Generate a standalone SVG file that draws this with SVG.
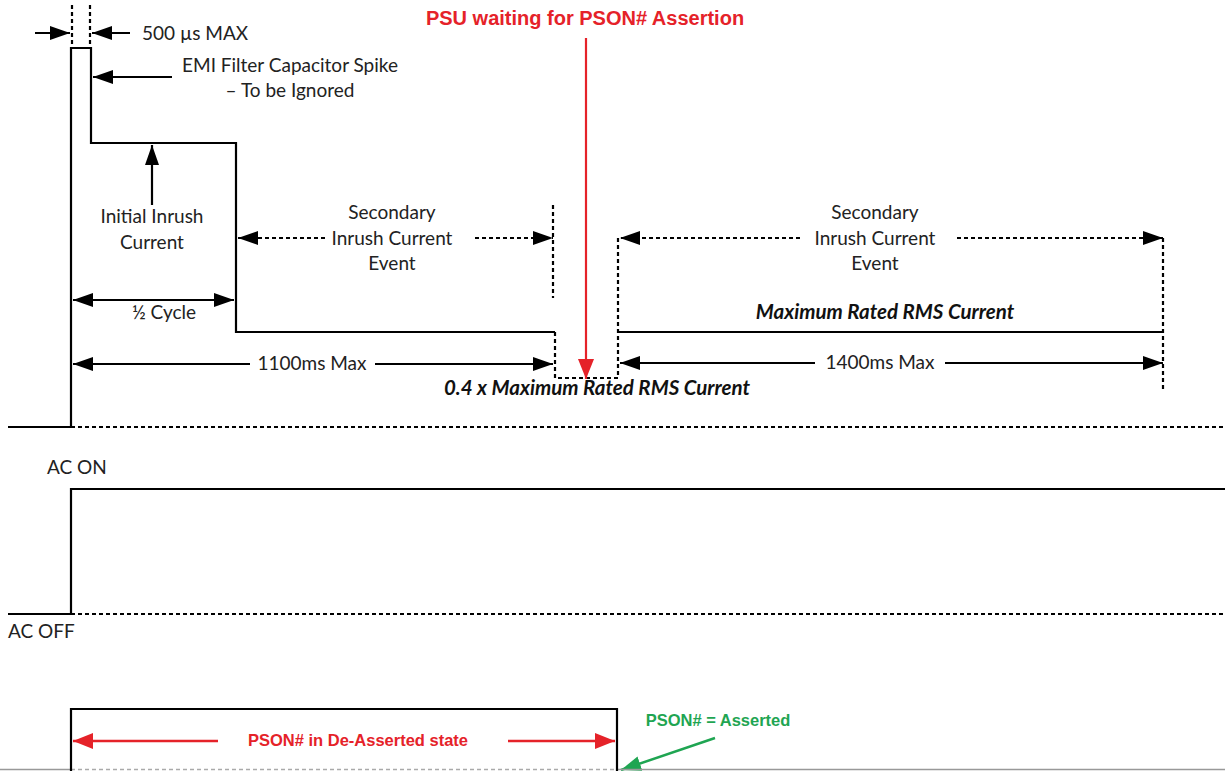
<svg xmlns="http://www.w3.org/2000/svg" width="1225" height="771" viewBox="0 0 1225 771">
<defs>
<style>
.t{font-family:Lato,"Open Sans","Liberation Sans",sans-serif;font-size:19px;fill:#222}
.bi{font-family:Lato,"Open Sans","Liberation Sans",sans-serif;font-size:20.5px;font-weight:bold;font-style:italic;fill:#111}
.r{font-family:"Liberation Sans",Arial,sans-serif;font-weight:bold;fill:#e52229}
.g{font-family:"Liberation Sans",Arial,sans-serif;font-weight:bold;fill:#1fa552}
.s{stroke:#000;stroke-width:2.2;fill:none}
.d{stroke:#000;stroke-width:2.2;fill:none;stroke-dasharray:4 3}
</style>
<marker id="ahr" viewBox="0 0 10 10" refX="10" refY="5" markerWidth="20" markerHeight="16" markerUnits="userSpaceOnUse" orient="auto" preserveAspectRatio="none"><path d="M0,0 L10,5 L0,10 z" fill="#e52229"/></marker>
<marker id="ahg" viewBox="0 0 10 10" refX="10" refY="5" markerWidth="20" markerHeight="15" markerUnits="userSpaceOnUse" orient="auto" preserveAspectRatio="none"><path d="M0,0 L10,5 L0,10 z" fill="#1fa552"/></marker>
<marker id="ahb" viewBox="0 0 10 10" refX="10" refY="5" markerWidth="20" markerHeight="14" markerUnits="userSpaceOnUse" orient="auto" preserveAspectRatio="none"><path d="M0,0 L10,5 L0,10 z" fill="#000"/></marker>
</defs>
<rect width="1225" height="771" fill="#fff"/>

<g id="inrush-waveform">
<path class="s" d="M8,427 H71 V48 H91 V143 H236 V332 H555"/>
<path class="d" d="M71,427 H1225"/>
<path class="d" d="M555,332 V378 H618 V236"/>
<path class="s" d="M618,332 H1163"/>
<path class="d" d="M72,5 V45 M90,5 V45"/>
<path class="d" d="M553,205 V298"/>
<path class="d" d="M1163,238 V390"/>
</g>

<g id="connectors">
<line x1="35" y1="33" x2="70" y2="33" class="s" marker-end="url(#ahb)"/>
<line x1="130" y1="33" x2="92" y2="33" class="s" marker-end="url(#ahb)"/>
<line x1="172" y1="77" x2="93" y2="77" class="s" marker-end="url(#ahb)"/>
<line x1="152" y1="205" x2="152" y2="145" class="s" marker-end="url(#ahb)"/>
<line x1="120" y1="300" x2="73" y2="300" class="s" marker-end="url(#ahb)"/>
<line x1="120" y1="300" x2="234" y2="300" class="s" marker-end="url(#ahb)"/>
<line x1="325" y1="238" x2="238" y2="238" class="d" marker-end="url(#ahb)"/>
<line x1="475" y1="238" x2="553" y2="238" class="d" marker-end="url(#ahb)"/>
<line x1="800" y1="238" x2="620" y2="238" class="d" marker-end="url(#ahb)"/>
<line x1="957" y1="238" x2="1163" y2="238" class="d" marker-end="url(#ahb)"/>
<line x1="250" y1="364" x2="73" y2="364" class="s" marker-end="url(#ahb)"/>
<line x1="375" y1="364" x2="553" y2="364" class="s" marker-end="url(#ahb)"/>
<line x1="815" y1="363" x2="620" y2="363" class="s" marker-end="url(#ahb)"/>
<line x1="945" y1="363" x2="1163" y2="363" class="s" marker-end="url(#ahb)"/>
<line x1="586" y1="38" x2="586" y2="379" stroke="#e52229" stroke-width="2.2" marker-end="url(#ahr)"/>
<line x1="218" y1="741" x2="73" y2="741" stroke="#e52229" stroke-width="2.5" marker-end="url(#ahr)"/>
<line x1="508" y1="741" x2="615" y2="741" stroke="#e52229" stroke-width="2.5" marker-end="url(#ahr)"/>
<line x1="715" y1="738" x2="621" y2="770" stroke="#1fa552" stroke-width="2.5" marker-end="url(#ahg)"/>
</g>

<g id="labels-top">
<text class="t" x="142" y="40">500 µs MAX</text>
<text class="t" x="290" y="72" text-anchor="middle">EMI Filter Capacitor Spike</text>
<text class="t" x="290" y="97" text-anchor="middle">– To be Ignored</text>
<text class="t" x="152" y="223" text-anchor="middle">Initial Inrush</text>
<text class="t" x="152" y="249" text-anchor="middle">Current</text>
<text class="t" x="164" y="319" text-anchor="middle">½ Cycle</text>
<text class="t" x="392" y="219" text-anchor="middle">Secondary</text>
<text class="t" x="392" y="245" text-anchor="middle">Inrush Current</text>
<text class="t" x="392" y="270" text-anchor="middle">Event</text>
<text class="t" x="875" y="219" text-anchor="middle">Secondary</text>
<text class="t" x="875" y="245" text-anchor="middle">Inrush Current</text>
<text class="t" x="875" y="270" text-anchor="middle">Event</text>
<text class="bi" x="885" y="319" text-anchor="middle">Maximum Rated RMS Current</text>
<text class="t" x="312" y="370" text-anchor="middle">1100ms Max</text>
<text class="t" x="880" y="369" text-anchor="middle">1400ms Max</text>
<text class="bi" x="597" y="395" text-anchor="middle">0.4 x Maximum Rated RMS Current</text>
<text class="r" x="585" y="25" text-anchor="middle" font-size="20">PSU waiting for PSON# Assertion</text>
</g>

<g id="ac-waveform">
<path class="s" d="M8,614 H71 V489 H1225"/>
<path class="d" d="M71,614 H1225"/>
<text class="t" x="47" y="474">AC ON</text>
<text class="t" x="8" y="638">AC OFF</text>
</g>

<g id="pson-waveform">
<path d="M0,769.5 H71 M617,769.5 H1225" stroke="#999" stroke-width="1.5"/>
<path d="M71,769.5 H617" stroke="#aaa" stroke-width="1.5" stroke-dasharray="4 3"/>
<path class="s" d="M71,771 V709 H617 V771"/>
<text class="r" x="358" y="746" text-anchor="middle" font-size="16.5">PSON# in De-Asserted state</text>
<text class="g" x="718" y="726" text-anchor="middle" font-size="16.5">PSON# = Asserted</text>
</g>
</svg>
